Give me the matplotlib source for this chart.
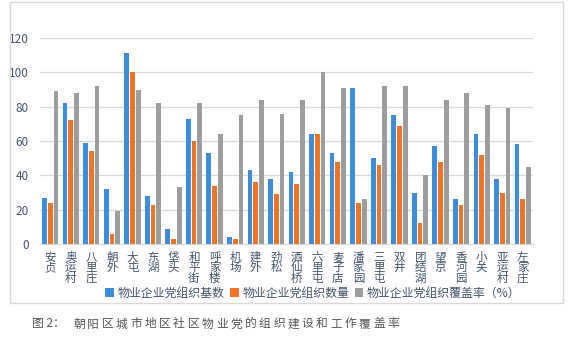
import numpy as np
import matplotlib.pyplot as plt
from matplotlib.patches import Rectangle

plt.rcParams['font.family'] = ['Noto Sans CJK SC', 'DejaVu Sans']

categories = ['安贞', '奥运村', '八里庄', '朝外', '大屯', '东湖', '垡头', '和平街',
              '呼家楼', '机场', '建外', '劲松', '酒仙桥', '六里屯', '麦子店', '潘家园',
              '三里屯', '双井', '团结湖', '望京', '香河园', '小关', '亚运村', '左家庄']
base_count = [27, 82, 59, 32, 111, 28, 9, 73, 53, 4, 43, 38, 42, 64, 53, 91,
              50, 75, 30, 57, 26, 64, 38, 58]
org_count = [24, 72, 54, 6, 100, 23, 3, 60, 34, 3, 36, 29, 35, 64, 48, 24,
             46, 69, 12, 48, 23, 52, 30, 26]
coverage = [89, 88, 92, 19, 90, 82, 33, 82, 64, 75, 84, 76, 84, 100, 91, 26,
            92, 92, 40, 84, 88, 81, 79, 45]
series_names = ['物业企业党组织基数', '物业企业党组织数量', '物业企业党组织覆盖率（%）']
colors = ['#3d8ddb', '#ee7523', '#9d9d9d']
caption = '图2：朝阳区城市地区社区物业党的组织建设和工作覆盖率'

fig = plt.figure(figsize=(5.72, 3.39), dpi=100)
W, H = 572, 339

# light frame round the chart
fig.patches.append(Rectangle((9.5 / W, 1 - 303 / H), (563 - 9.5) / W, (303 - 2) / H,
                             transform=fig.transFigure, fill=False,
                             edgecolor='#d9d9d9', linewidth=1))

ax = fig.add_axes([40 / W, 1 - 244 / H, (533 - 40) / W, (244 - 38) / H])
x = np.arange(len(categories))
width = 0.23
step = 0.28
bars = []
for i, vals in enumerate([base_count, org_count, coverage]):
    b = ax.bar(x + (i - 1) * step, vals, width, color=colors[i], zorder=3)
    bars.append(b)

ax.set_xlim(-0.5, len(categories) - 0.5)
ax.set_ylim(0, 120)
ax.set_yticks(range(0, 121, 20))
ax.yaxis.grid(True, color='#d9d9d9', linewidth=0.9, zorder=0)
for s in ['top', 'right', 'left']:
    ax.spines[s].set_visible(False)
ax.spines['bottom'].set_color('#d9d9d9')
ax.tick_params(axis='both', length=0, colors='#44546a', labelsize=8.5)
ax.tick_params(axis='y', pad=8)
ax.set_xticks(x)
ax.set_xticklabels(['\n'.join(c) for c in categories], fontsize=8.3,
                   linespacing=0.73, color='#44546a', va='top')
ax.tick_params(axis='x', pad=5)

# legend under the tick labels
leg = fig.legend(handles=list(bars), labels=series_names, loc='center',
                 bbox_to_anchor=(313 / W, 1 - 293 / H), bbox_transform=fig.transFigure,
                 ncol=3, frameon=False, fontsize=8.6, handlelength=0.7,
                 handleheight=0.7, handletextpad=0.3, columnspacing=0.5,
                 borderpad=0)
for t in leg.get_texts():
    t.set_color('#44546a')

# caption with wide letter spacing
fig.text(32 / W, 1 - 324 / H, '图 2：', fontsize=8.5, color='#555555', va='center')
for k, ch in enumerate(caption[3:]):
    fig.text((73 + k * 14.3) / W, 1 - 324 / H, ch, fontsize=8.5,
             color='#555555', va='center')

fig.savefig('out.png', dpi=100)
